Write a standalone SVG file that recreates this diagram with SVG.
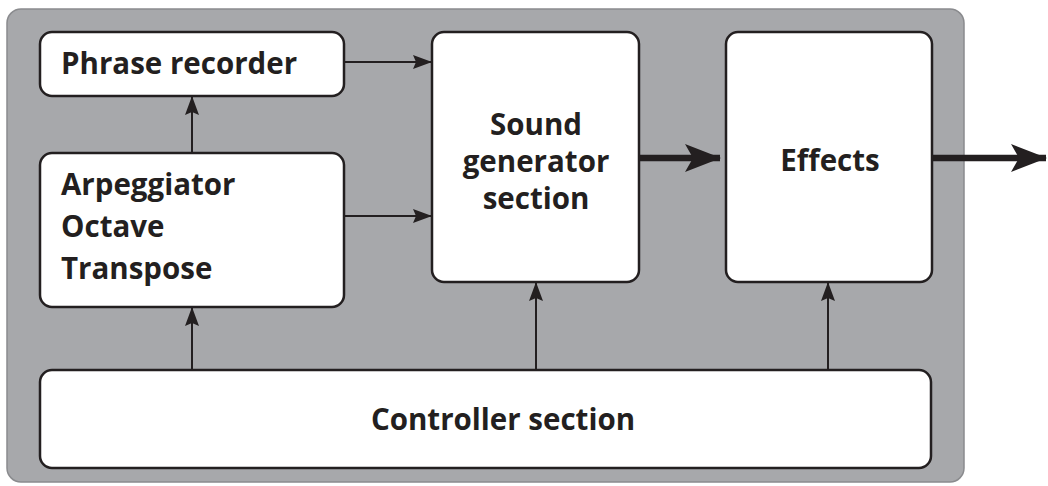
<svg xmlns="http://www.w3.org/2000/svg" width="1048" height="486" viewBox="0 0 1048 486">
<style>
.box{fill:#fff;stroke:#231f20;stroke-width:2.5}
.t{font-family:"Open Sans","Liberation Sans",sans-serif;font-weight:700;font-size:29.5px;fill:#231f20}
.c{text-anchor:middle}
.ln{stroke:#231f20;stroke-width:2;fill:none}
.thick{stroke:#231f20;stroke-width:6.5;fill:none}
</style>
<defs>
<marker id="a" markerWidth="19" markerHeight="14" refX="18" refY="7" orient="auto" markerUnits="userSpaceOnUse">
<path d="M0,0 L19,7 L0,14 L3,7 Z" fill="#231f20"/>
</marker>
<marker id="b" markerWidth="36" markerHeight="28" refX="35" refY="14" orient="auto" markerUnits="userSpaceOnUse">
<path d="M0,0 L36,14 L0,28 L8,14 Z" fill="#231f20"/>
</marker>
</defs>
<rect x="7" y="9" width="957" height="473" rx="14" fill="#a7a8ab" stroke="#8a8b8e" stroke-width="1.5"/>
<g id="phrase">
<rect class="box" x="40" y="32" width="304" height="64" rx="12"/>
<text class="t" x="61" y="74">Phrase recorder</text>
</g>
<g id="arp">
<rect class="box" x="40" y="153" width="304" height="154" rx="12"/>
<text class="t" x="61" y="195">Arpeggiator</text>
<text class="t" x="61" y="237">Octave</text>
<text class="t" x="61" y="279">Transpose</text>
</g>
<g id="sound">
<rect class="box" x="432" y="32" width="207" height="250" rx="12"/>
<text class="t c" x="536" y="135">Sound</text>
<text class="t c" x="536" y="172">generator</text>
<text class="t c" x="536" y="209">section</text>
</g>
<g id="effects">
<rect class="box" x="726" y="32" width="206" height="250" rx="12"/>
<text class="t c" x="830" y="171">Effects</text>
</g>
<g id="controller">
<rect class="box" x="40" y="370" width="891" height="98" rx="12"/>
<text class="t c" x="503" y="430">Controller section</text>
</g>
<g id="connectors">
<line class="ln" x1="345" y1="62" x2="431" y2="62" marker-end="url(#a)"/>
<line class="ln" x1="345" y1="216" x2="431" y2="216" marker-end="url(#a)"/>
<line class="ln" x1="192" y1="152" x2="192" y2="97" marker-end="url(#a)"/>
<line class="ln" x1="192" y1="369" x2="192" y2="308" marker-end="url(#a)"/>
<line class="ln" x1="536" y1="369" x2="536" y2="283" marker-end="url(#a)"/>
<line class="ln" x1="828" y1="369" x2="828" y2="283" marker-end="url(#a)"/>
<line class="thick" x1="640" y1="158" x2="720" y2="158" marker-end="url(#b)"/>
<line class="thick" x1="933" y1="158" x2="1046" y2="158" marker-end="url(#b)"/>
</g>
</svg>
